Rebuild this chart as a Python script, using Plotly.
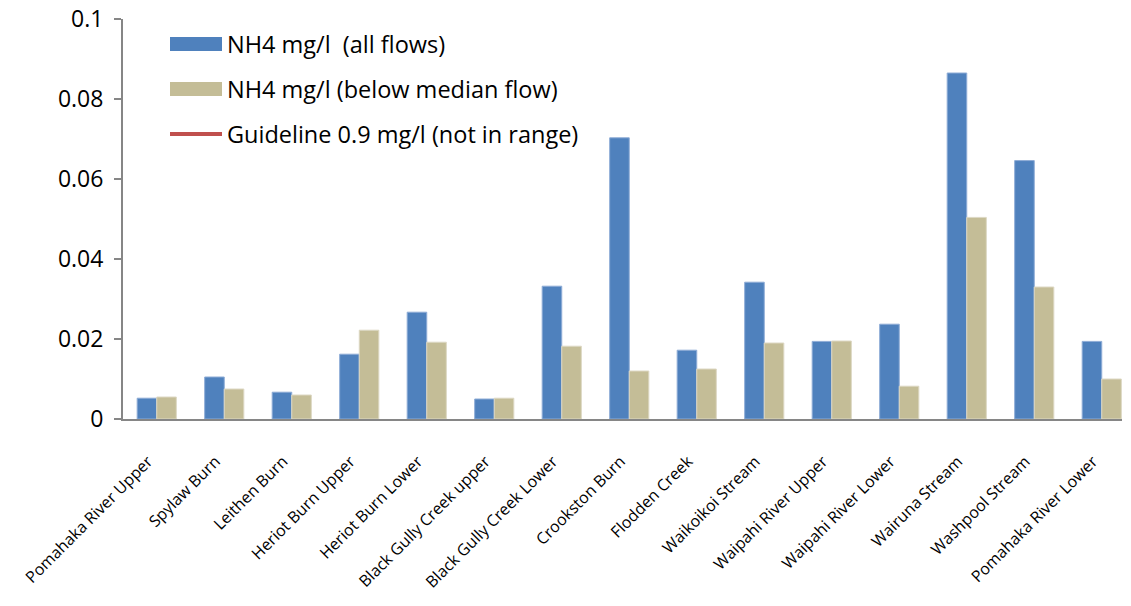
import plotly.graph_objects as go

categories = ["Pomahaka River Upper", "Spylaw Burn", "Leithen Burn", "Heriot Burn Upper",
              "Heriot Burn Lower", "Black Gully Creek upper", "Black Gully Creek Lower",
              "Crookston Burn", "Flodden Creek", "Waikoikoi Stream", "Waipahi River Upper",
              "Waipahi River Lower", "Wairuna Stream", "Washpool Stream", "Pomahaka River Lower"]
nh4_all = [0.0052, 0.0105, 0.0067, 0.0162, 0.0267, 0.0050, 0.0332, 0.0703, 0.0172,
           0.0342, 0.0194, 0.0237, 0.0865, 0.0646, 0.0194]
nh4_below = [0.0055, 0.0075, 0.0060, 0.0222, 0.0192, 0.0052, 0.0182, 0.0120, 0.0125,
             0.0190, 0.0195, 0.0082, 0.0504, 0.0330, 0.0100]
guideline = [0.9] * len(categories)
y_ticks = [0, 0.02, 0.04, 0.06, 0.08, 0.1]
y_tick_labels = ["0", "0.02", "0.04", "0.06", "0.08", "0.1"]

names = ["NH4 mg/l  (all flows)", "NH4 mg/l (below median flow)", "Guideline 0.9 mg/l (not in range)"]
BLUE, TAN, RED = "#4F81BD", "#C4BD97", "#C0504D"
FONT = "Open Sans"

# body margin is removed via post_script, so figure pixels == window pixels
LEFT, RIGHT, TOP, BOTTOM = 123, 1122, 19, 419
FIG_W, FIG_H = 1131, 606
PLOT_W = RIGHT - LEFT
PLOT_H = BOTTOM - TOP

fig = go.Figure()
fig.add_bar(x=categories, y=nh4_all, name=names[0], marker=dict(color=BLUE, line=dict(color="#8EACD6", width=1)))
fig.add_bar(x=categories, y=nh4_below, name=names[1], marker=dict(color=TAN, line=dict(color="#DDD8C4", width=1)))
fig.add_scatter(x=categories, y=guideline, name=names[2], mode="lines",
                line=dict(color=RED, width=3), showlegend=False)

# manual legend (wide swatches, Excel-like spacing); positions in window pixels
legend_y = [44, 89, 134]
def py(p):
    return 1 - (p - TOP) / PLOT_H
def px(p):
    return (p - LEFT) / PLOT_W
shapes = [
    dict(type="rect", xref="paper", yref="paper", x0=px(170), x1=px(222),
         y0=py(legend_y[0] + 7), y1=py(legend_y[0] - 7), fillcolor=BLUE, line=dict(width=0)),
    dict(type="rect", xref="paper", yref="paper", x0=px(170), x1=px(222),
         y0=py(legend_y[1] + 7), y1=py(legend_y[1] - 7), fillcolor=TAN, line=dict(width=0)),
    dict(type="line", xref="paper", yref="paper", x0=px(170), x1=px(222),
         y0=py(legend_y[2]), y1=py(legend_y[2]), line=dict(color=RED, width=4)),
]
annotations = []
for i, nm in enumerate(names):
    annotations.append(dict(xref="paper", yref="paper", x=px(225), y=py(legend_y[i]),
                            text=nm, showarrow=False, xanchor="left", yanchor="middle",
                            font=dict(family=FONT, size=23.5, color="#000000")))

fig.update_layout(
    width=FIG_W, height=FIG_H,
    margin=dict(l=LEFT, r=FIG_W - RIGHT, t=TOP, b=FIG_H - BOTTOM),
    paper_bgcolor="white", plot_bgcolor="white",
    barmode="group", bargap=0.42, bargroupgap=0,
    showlegend=False,
    shapes=shapes, annotations=annotations,
    font=dict(family=FONT, color="#000000"),
)
fig.update_xaxes(tickangle=-45, tickfont=dict(family=FONT, size=16),
                 tickvals=categories, ticktext=[c + "\u00a0\u00a0\u00a0" for c in categories],
                 range=[-0.5, len(categories) - 0.7], automargin=False,
                 showline=True, linecolor="#868686", linewidth=2, ticks="",
                 showgrid=False, ticklabelstandoff=16)
fig.update_yaxes(range=[0, 0.1], tickvals=y_ticks, ticktext=y_tick_labels,
                 tickfont=dict(family=FONT, size=23), automargin=False,
                 showline=True, linecolor="#868686", linewidth=2,
                 ticks="outside", ticklen=7, tickcolor="#868686", tickwidth=2,
                 showgrid=False, zeroline=False, ticklabelstandoff=6,
                 ticklabeloverflow="allow")

fig.write_html("out.html", config={"displayModeBar": False},
               post_script="document.body.style.margin='0';")
